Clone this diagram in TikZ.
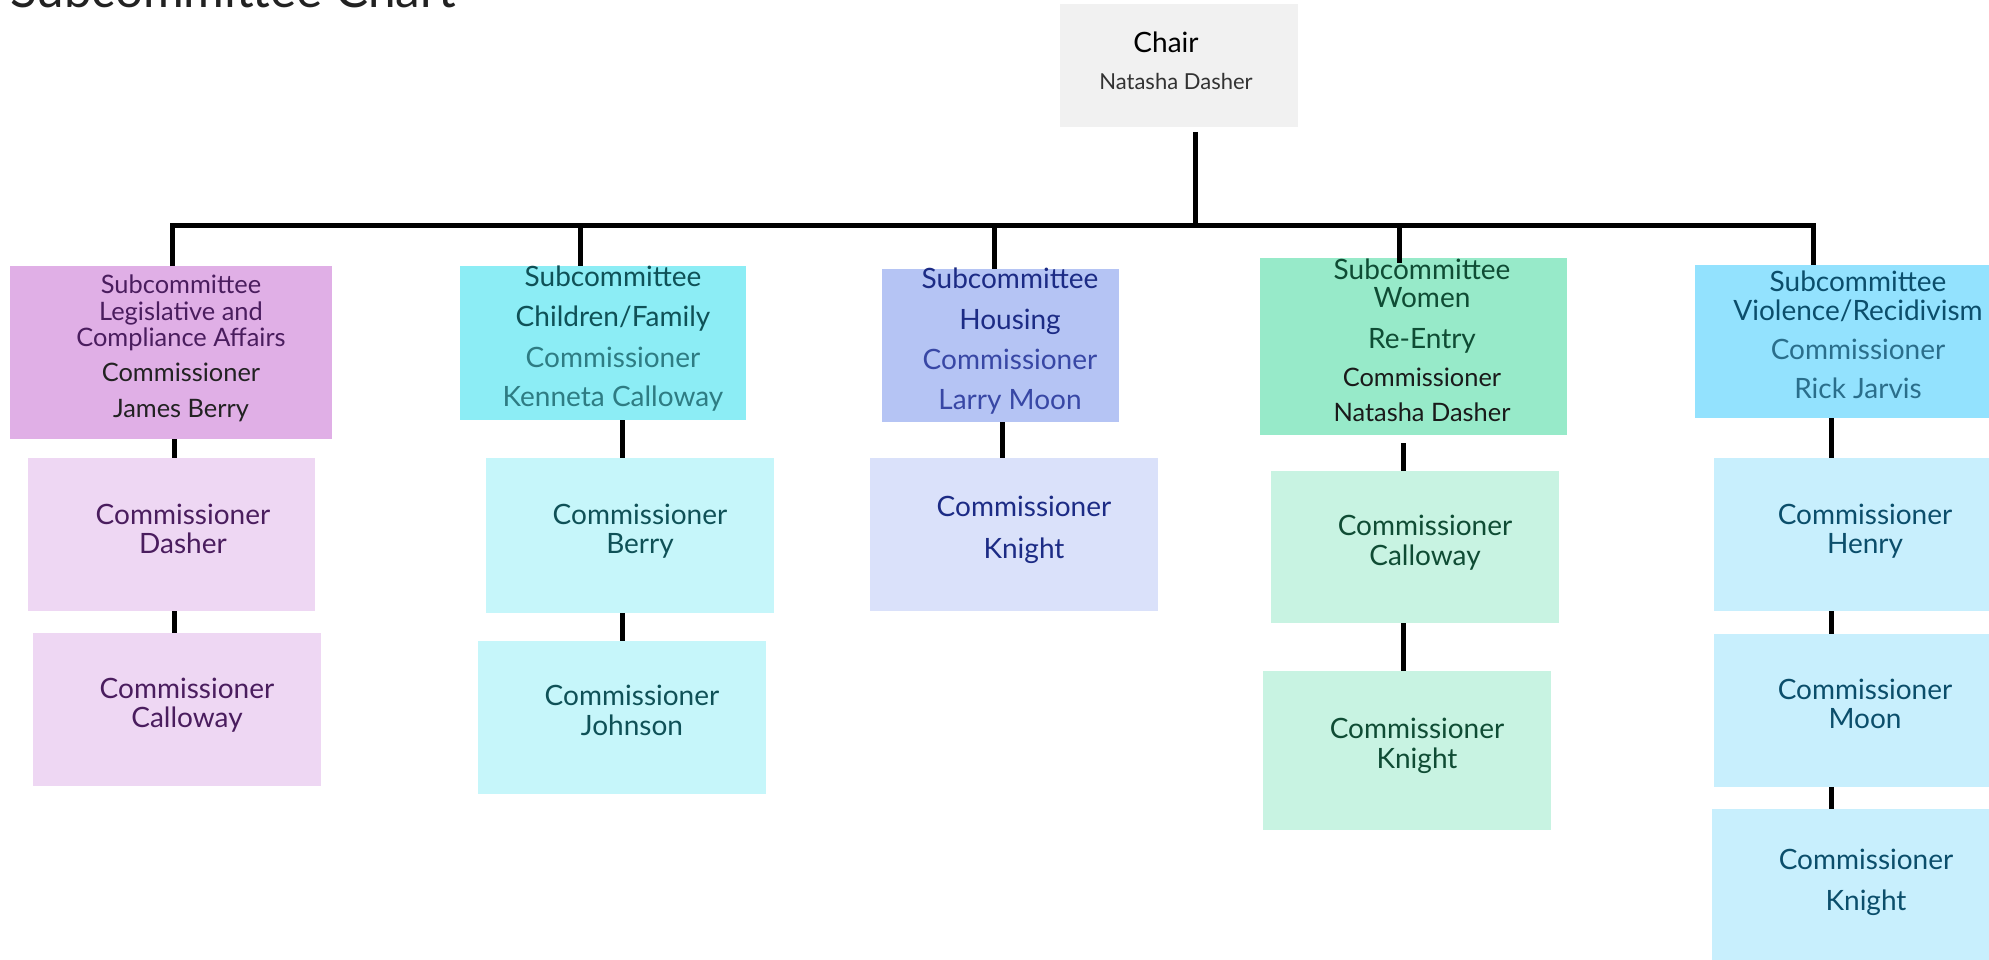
\documentclass[tikz,border=0pt]{standalone}
\usepackage{fontspec}
\setmainfont{Lato}
\definecolor{chairfill}{HTML}{F1F1F1}
\definecolor{chairname}{HTML}{333333}
\definecolor{titletx}{HTML}{222222}
\definecolor{aSub}{HTML}{E0AFE6}\definecolor{aCh}{HTML}{EED7F3}\definecolor{aTx}{HTML}{4A1D5E}\definecolor{aLo}{HTML}{222222}
\definecolor{bSub}{HTML}{8CEDF5}\definecolor{bCh}{HTML}{C6F6FA}\definecolor{bTx}{HTML}{0F5157}\definecolor{bLo}{HTML}{2E7C83}
\definecolor{cSub}{HTML}{B5C4F4}\definecolor{cCh}{HTML}{DAE1FA}\definecolor{cTx}{HTML}{1C2B85}\definecolor{cLo}{HTML}{3847A5}
\definecolor{dSub}{HTML}{97EAC9}\definecolor{dCh}{HTML}{C8F3E2}\definecolor{dTx}{HTML}{0F4C34}\definecolor{dLo}{HTML}{1A1A1A}
\definecolor{eSub}{HTML}{93E2FE}\definecolor{eCh}{HTML}{C8EFFD}\definecolor{eTx}{HTML}{0B4E6B}\definecolor{eLo}{HTML}{2A6E8B}
\newcommand\fBig{\fontsize{28}{31}\selectfont}
\newcommand\fSmall{\fontsize{25.4}{29}\selectfont}
\newcommand\fChairN{\fontsize{22}{25}\selectfont}
\newcommand\fTitle{\fontsize{49.5}{55}\selectfont}
\tikzset{
  box/.style={rectangle, inner sep=0pt, outer sep=0pt, draw=none},
  lbl/.style={inner sep=0pt, anchor=mid, yshift=-7pt},
  conn/.style={line width=5pt, black, line join=miter},
}
\begin{document}
\begin{tikzpicture}[x=1pt,y=-1pt]
\useasboundingbox (0,0) rectangle (1989,960);
% title
\node[inner sep=0pt, anchor=base west, font=\fTitle, text=titletx] (title) at (10,8) {Subcommittee Chart};
% boxes
\node[box, fill=chairfill, minimum width=238pt, minimum height=123pt] (chair) at (1179,65.5) {};
\node[box, fill=aSub, minimum width=322pt, minimum height=173pt] (s1) at (171,352.5) {};
\node[box, fill=aCh, minimum width=287pt, minimum height=153pt] (c11) at (171.5,534.5) {};
\node[box, fill=aCh, minimum width=288pt, minimum height=153pt] (c12) at (177,709.5) {};
\node[box, fill=bSub, minimum width=286pt, minimum height=154pt] (s2) at (603,343) {};
\node[box, fill=bCh, minimum width=288pt, minimum height=155pt] (c21) at (630,535.5) {};
\node[box, fill=bCh, minimum width=288pt, minimum height=153pt] (c22) at (622,717.5) {};
\node[box, fill=cSub, minimum width=237pt, minimum height=153pt] (s3) at (1000.5,345.5) {};
\node[box, fill=cCh, minimum width=288pt, minimum height=153pt] (c31) at (1014,534.5) {};
\node[box, fill=dSub, minimum width=307pt, minimum height=177pt] (s4) at (1413.5,346.5) {};
\node[box, fill=dCh, minimum width=288pt, minimum height=152pt] (c41) at (1415,547) {};
\node[box, fill=dCh, minimum width=288pt, minimum height=159pt] (c42) at (1407,750.5) {};
\node[box, fill=eSub, minimum width=307pt, minimum height=153pt] (s5) at (1848.5,341.5) {};
\node[box, fill=eCh, minimum width=288pt, minimum height=153pt] (c51) at (1858,534.5) {};
\node[box, fill=eCh, minimum width=288pt, minimum height=153pt] (c52) at (1858,710.5) {};
\node[box, fill=eCh, minimum width=288pt, minimum height=153pt] (c53) at (1856,885.5) {};
% junction coordinates
\coordinate (j0) at (1195,226);
\coordinate (j1) at (172,226);
\coordinate (j2) at (580,226);
\coordinate (j3) at (994,226);
\coordinate (j4) at (1399,226);
\coordinate (j5) at (1813,226);
\coordinate (k1) at (174,0);
\coordinate (k2) at (622,0);
\coordinate (k3) at (1002,0);
\coordinate (k4) at (1403,0);
\coordinate (k5) at (1831,0);
% connectors
\draw[conn, shorten <=5pt] (chair.south -| j0) -- (j0);
\draw[conn] (j1 |- s1.north) -- (j1) -- (j5) -- (j5 |- s5.north);
\draw[conn] (j2) -- (j2 |- s2.north);
\draw[conn] (j3) -- (j3 |- s3.north);
\draw[conn] (j4) -- ([yshift=-5pt]s4.north -| j4);
\draw[conn] (s1.south -| k1) -- (c11.north -| k1);
\draw[conn] (c11.south -| k1) -- (c12.north -| k1);
\draw[conn] (s2.south -| k2) -- (c21.north -| k2);
\draw[conn] (c21.south -| k2) -- (c22.north -| k2);
\draw[conn] (s3.south -| k3) -- (c31.north -| k3);
\draw[conn, shorten <=8pt] (s4.south -| k4) -- (c41.north -| k4);
\draw[conn] (c41.south -| k4) -- (c42.north -| k4);
\draw[conn] (s5.south -| k5) -- (c51.north -| k5);
\draw[conn] (c51.south -| k5) -- (c52.north -| k5);
\draw[conn] (c52.south -| k5) -- (c53.north -| k5);
% chair text
\node[lbl, font=\fBig, text=black] (tch1) at (1166,43) {Chair};
\node[lbl, font=\fChairN, text=chairname] (tch2) at (1176,80) {Natasha Dasher};
% column 1
\node[lbl, font=\fSmall, text=aTx] (t1a) at (181,284) {Subcommittee};
\node[lbl, font=\fSmall, text=aTx] (t1b) at (181,311) {Legislative and};
\node[lbl, font=\fSmall, text=aTx] (t1c) at (181,337) {Compliance Affairs};
\node[lbl, font=\fSmall, text=aLo] (t1d) at (181,372) {Commissioner};
\node[lbl, font=\fSmall, text=aLo] (t1e) at (181,408) {James Berry};
\node[lbl, font=\fBig, text=aTx] (t11a) at (183,515) {Commissioner};
\node[lbl, font=\fBig, text=aTx] (t11b) at (183,544) {Dasher};
\node[lbl, font=\fBig, text=aTx] (t12a) at (187,689) {Commissioner};
\node[lbl, font=\fBig, text=aTx] (t12b) at (187,718) {Calloway};
% column 2
\node[lbl, font=\fBig, text=bTx] (t2a) at (613,277) {Subcommittee};
\node[lbl, font=\fBig, text=bTx] (t2b) at (613,317) {Children/Family};
\node[lbl, font=\fBig, text=bLo] (t2c) at (613,358) {Commissioner};
\node[lbl, font=\fBig, text=bLo] (t2d) at (613,397) {Kenneta Calloway};
\node[lbl, font=\fBig, text=bTx] (t21a) at (640,515) {Commissioner};
\node[lbl, font=\fBig, text=bTx] (t21b) at (640,544) {Berry};
\node[lbl, font=\fBig, text=bTx] (t22a) at (632,696) {Commissioner};
\node[lbl, font=\fBig, text=bTx] (t22b) at (632,726) {Johnson};
% column 3
\node[lbl, font=\fBig, text=cTx] (t3a) at (1010,279) {Subcommittee};
\node[lbl, font=\fBig, text=cTx] (t3b) at (1010,320) {Housing};
\node[lbl, font=\fBig, text=cLo] (t3c) at (1010,360) {Commissioner};
\node[lbl, font=\fBig, text=cLo] (t3d) at (1010,400) {Larry Moon};
\node[lbl, font=\fBig, text=cTx] (t31a) at (1024,507) {Commissioner};
\node[lbl, font=\fBig, text=cTx] (t31b) at (1024,549) {Knight};
% column 4
\node[lbl, font=\fBig, text=dTx] (t4a) at (1422,270) {Subcommittee};
\node[lbl, font=\fBig, text=dTx] (t4b) at (1422,298) {Women};
\node[lbl, font=\fBig, text=dTx] (t4c) at (1422,339) {Re-Entry};
\node[lbl, font=\fSmall, text=dLo] (t4d) at (1422,377) {Commissioner};
\node[lbl, font=\fSmall, text=dLo] (t4e) at (1422,412) {Natasha Dasher};
\node[lbl, font=\fBig, text=dTx] (t41a) at (1425,526) {Commissioner};
\node[lbl, font=\fBig, text=dTx] (t41b) at (1425,556) {Calloway};
\node[lbl, font=\fBig, text=dTx] (t42a) at (1417,729) {Commissioner};
\node[lbl, font=\fBig, text=dTx] (t42b) at (1417,759) {Knight};
% column 5
\node[lbl, font=\fBig, text=eTx] (t5a) at (1858,282) {Subcommittee};
\node[lbl, font=\fBig, text=eTx] (t5b) at (1858,311) {Violence/Recidivism};
\node[lbl, font=\fBig, text=eLo] (t5c) at (1858,350) {Commissioner};
\node[lbl, font=\fBig, text=eLo] (t5d) at (1858,389) {Rick Jarvis};
\node[lbl, font=\fBig, text=eTx] (t51a) at (1865,515) {Commissioner};
\node[lbl, font=\fBig, text=eTx] (t51b) at (1865,544) {Henry};
\node[lbl, font=\fBig, text=eTx] (t52a) at (1865,690) {Commissioner};
\node[lbl, font=\fBig, text=eTx] (t52b) at (1865,719) {Moon};
\node[lbl, font=\fBig, text=eTx] (t53a) at (1866,860) {Commissioner};
\node[lbl, font=\fBig, text=eTx] (t53b) at (1866,901) {Knight};
\end{tikzpicture}
\end{document}
